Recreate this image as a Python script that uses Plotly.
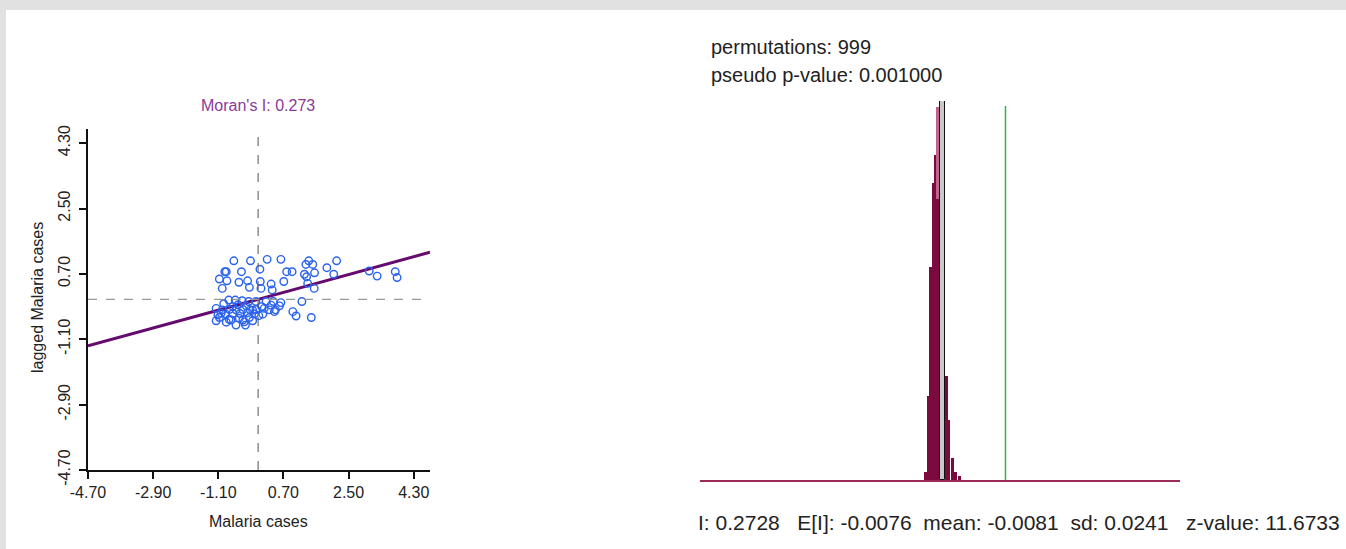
import plotly.graph_objects as go

W, H = 1346, 549

# ---------------- data: Moran scatter ----------------
malaria_x = [-0.67, -0.21, 0.25, 0.63, 1.40, 2.17, -0.92, -0.88, -0.46, 0.05,
             0.79, 0.94, 1.32, 1.51, 1.28, 1.56, 1.90, 2.09, 3.07, 3.29,
             3.79, 3.84, -1.07, -0.86, -0.53, -0.29, 0.06, 0.36, 0.71, 1.37,
             -0.99, -0.24, 0.08, 0.39, 1.55, 1.34, -0.81, -0.63, -0.44, -0.26,
             -0.06, 0.22, 0.42, 0.63, 1.21, -1.16, -0.99, -0.79, -0.61, -0.42,
             -0.22, -0.06, 0.17, 0.48, 0.96, 1.05, 1.47, -1.11, -0.90, -0.70,
             -0.50, -0.29, -0.10, 0.13, 0.45, -1.16, -0.88, -0.61, -0.35, -0.15,
             -0.75, -0.52, 0.31, 0.59, 0.36, -1.07, -0.42, -0.24, -0.70, -0.33,
             -0.95, -0.55, 0.02, -0.80, 0.10, -0.15, -1.02, -0.38]
lagged_y = [1.06, 1.06, 1.10, 1.10, 1.06, 1.06, 0.76, 0.76, 0.76, 0.83,
            0.76, 0.76, 0.96, 0.96, 0.69, 0.73, 0.87, 0.69, 0.78, 0.64,
            0.76, 0.60, 0.56, 0.51, 0.47, 0.51, 0.49, 0.42, 0.49, 0.44,
            0.30, 0.33, 0.30, 0.26, 0.30, 0.62, -0.02, -0.02, -0.04, -0.06,
            -0.06, -0.06, -0.06, -0.09, -0.06, -0.25, -0.29, -0.28, -0.29, -0.28,
            -0.29, -0.28, -0.25, -0.29, -0.34, -0.46, -0.50, -0.43, -0.40, -0.39,
            -0.39, -0.37, -0.40, -0.41, -0.34, -0.59, -0.63, -0.71, -0.71, -0.59,
            -0.57, -0.52, -0.29, -0.18, -0.16, -0.50, -0.57, -0.50, -0.20, -0.18,
            -0.12, -0.15, -0.45, -0.55, -0.20, -0.30, -0.38, -0.62]
morans_i = 0.273
axis_ticks = [-4.70, -2.90, -1.10, 0.70, 2.50, 4.30]
axis_tick_text = ["-4.70", "-2.90", "-1.10", "0.70", "2.50", "4.30"]
x_range = [-4.70, 4.75]
y_range = [-4.70, 4.69]

# ---------------- data: permutation histogram ----------------
perm_bin_centers = [-0.061, -0.050, -0.040, -0.030, -0.021, -0.010, 0.026, 0.038, 0.051, 0.065, 0.082]
perm_bin_counts = [4, 42, 106, 148, 162, 140, 52, 30, 11, 4, 2]
perm_bin_width = 0.0108
light_bin_center = [-0.009]
light_bin_count = [186]
light_bin_width = 0.008
highlight_bin_center = [0.0104]
highlight_bin_count = [189]
highlight_bin_width = 0.0208
perm_x_range = [-1.0, 1.0]
perm_y_range = [0, 189]
observed_I = 0.2728
expected_I = -0.0076
perm_mean = -0.0081
perm_sd = 0.0241
z_value = 11.6733
permutations = 999
pseudo_p = 0.001


def px(x):
    return x / W


def py(y):
    return 1 - y / H


FONT = "Liberation Sans, Arial, sans-serif"
BLUE = "#2a62f0"
PURPLE = "#650a6e"
MAROON = "#7b0a3f"

fig = go.Figure()

# regression line (slope = Moran's I through origin)
fig.add_trace(go.Scatter(
    x=x_range, y=[morans_i * v for v in x_range], mode="lines",
    line=dict(color=PURPLE, width=3), xaxis="x", yaxis="y", hoverinfo="skip"))

fig.add_trace(go.Scatter(
    x=malaria_x, y=lagged_y, mode="markers",
    marker=dict(symbol="circle-open", size=7.5, color=BLUE, line=dict(width=1.4, color=BLUE)),
    xaxis="x", yaxis="y"))

# histogram bars
fig.add_trace(go.Bar(
    x=light_bin_center, y=light_bin_count, width=[light_bin_width],
    marker=dict(color="#c0628e", line=dict(width=0)), xaxis="x2", yaxis="y2"))
fig.add_trace(go.Bar(
    x=perm_bin_centers, y=perm_bin_counts, width=[perm_bin_width] * len(perm_bin_centers),
    marker=dict(color=MAROON, line=dict(width=0)), xaxis="x2", yaxis="y2"))
fig.add_trace(go.Bar(
    x=highlight_bin_center, y=highlight_bin_count, width=[highlight_bin_width],
    marker=dict(color="#c8c8c8", line=dict(width=1, color="#111111")), xaxis="x2", yaxis="y2"))

# observed I line
fig.add_trace(go.Scatter(
    x=[observed_I, observed_I], y=[0, 186.5], mode="lines",
    line=dict(color="#2db34a", width=1.5), xaxis="x2", yaxis="y2", hoverinfo="skip"))

shapes = [
    # white panel over grey page background
    dict(type="rect", xref="paper", yref="paper", x0=px(6), x1=1, y0=0, y1=py(10),
         fillcolor="white", line=dict(width=0), layer="below"),
    # zero reference lines
    dict(type="line", xref="x", yref="y domain", x0=0, x1=0, y0=0, y1=1,
         line=dict(color="#555555", width=1, dash="dash")),
    dict(type="line", xref="x domain", yref="y", x0=0, x1=1, y0=0, y1=0,
         line=dict(color="#999999", width=1.3, dash="dash")),
]

ann_font = dict(family=FONT, size=20, color="#222222")
sp = "&nbsp;"
bottom_text = ("I: %.4f" % observed_I + sp * 3 + "E[I]: %.4f" % expected_I + sp * 2
               + "mean: %.4f" % perm_mean + sp * 2 + "sd: %.4f" % perm_sd + sp * 3
               + "z-value: %.4f" % z_value)
annotations = [
    dict(text="Moran's I: %.3f" % morans_i, xref="paper", yref="paper", x=px(258), y=py(105),
         xanchor="center", yanchor="middle", showarrow=False,
         font=dict(family=FONT, size=16, color="#8a3a98")),
    dict(text="Malaria cases", xref="paper", yref="paper", x=px(258), y=py(521),
         xanchor="center", yanchor="middle", showarrow=False,
         font=dict(family=FONT, size=16, color="#222222")),
    dict(text="lagged Malaria cases", xref="paper", yref="paper", x=px(37), y=py(298),
         xanchor="center", yanchor="middle", showarrow=False, textangle=-90,
         font=dict(family=FONT, size=16, color="#222222")),
    dict(text="permutations: %d" % permutations, xref="paper", yref="paper", x=px(709), y=py(47),
         xanchor="left", yanchor="middle", showarrow=False, font=ann_font),
    dict(text="pseudo p-value: %.6f" % pseudo_p, xref="paper", yref="paper", x=px(709), y=py(75),
         xanchor="left", yanchor="middle", showarrow=False, font=ann_font),
    dict(text=bottom_text, xref="paper", yref="paper", x=px(696), y=py(522),
         xanchor="left", yanchor="middle", showarrow=False,
         font=dict(family=FONT, size=21, color="#222222")),
]

tick_font = dict(family=FONT, size=16, color="#222222")
fig.update_layout(
    template="none",
    width=W, height=H, margin=dict(l=0, r=0, t=0, b=0, pad=0, autoexpand=False),
    paper_bgcolor="#e1e1e1", plot_bgcolor="rgba(0,0,0,0)",
    showlegend=False, barmode="overlay", bargap=0,
    shapes=shapes, annotations=annotations,
    xaxis=dict(domain=[px(88), px(430)], range=x_range, tickvals=axis_ticks, ticktext=axis_tick_text,
               showline=True, linecolor="#111111", linewidth=1.5, ticks="outside", ticklen=7,
               tickcolor="#111111", tickwidth=1.5, showgrid=False, zeroline=False, tickfont=tick_font,
               anchor="y", automargin=False),
    yaxis=dict(domain=[py(470), py(129)], range=y_range, tickvals=axis_ticks, ticktext=axis_tick_text,
               showline=True, linecolor="#111111", linewidth=1.5, ticks="outside", ticklen=7,
               tickcolor="#111111", tickwidth=1.5, showgrid=False, zeroline=False, tickfont=tick_font,
               tickangle=-90, anchor="x", automargin=False, ticklabelstandoff=3),
    xaxis2=dict(domain=[px(700), px(1180)], range=perm_x_range, showticklabels=False, ticks="",
                showline=True, linecolor="#9a2a5a", linewidth=2, showgrid=False, zeroline=False,
                anchor="y2", automargin=False),
    yaxis2=dict(domain=[py(480), py(101)], range=perm_y_range, visible=False, anchor="x2",
                automargin=False),
)

fig.write_html(
    "out.html",
    post_script="document.body.style.margin='0';document.body.style.padding='0';",
)
